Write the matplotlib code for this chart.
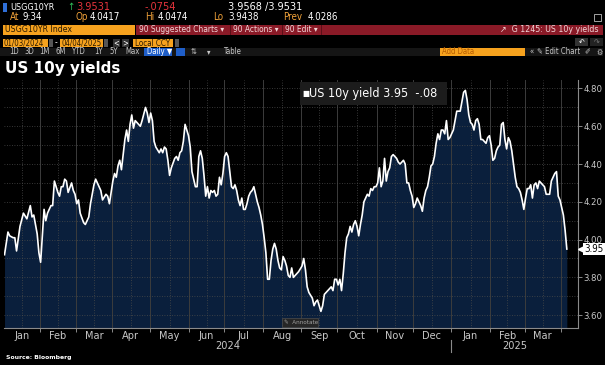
import numpy as np
import pandas as pd
import matplotlib
matplotlib.use("Agg")
import matplotlib.pyplot as plt
import matplotlib.transforms as mtransforms
from matplotlib.patches import Rectangle

# --- data: trading-day index (weekdays from 2024-01-03) and US 10y yield ---
start_date = "2024-01-03"
end_date = "2025-04-04"

day_idx = [
    0, 2, 3, 5, 6, 7, 9, 11, 13, 15, 16, 17, 19, 20, 21, 23, 24, 25, 27, 28,
    29, 31, 32, 33, 34, 35, 36, 37, 39, 40, 41, 42, 43, 44, 46, 47, 49, 50, 52, 53,
    55, 56, 57, 59, 60, 61, 63, 64, 65, 66, 67, 68, 70, 71, 72, 73, 74, 75, 76, 78,
    79, 80, 82, 83, 84, 85, 86, 87, 88, 90, 91, 92, 93, 94, 95, 96, 97, 99, 100, 101,
    102, 103, 104, 105, 107, 108, 109, 111, 112, 113, 114, 115, 116, 117, 118, 119, 120, 121, 122, 123,
    124, 125, 126, 127, 128, 129, 130, 131, 132, 133, 134, 135, 136, 137, 138, 139, 140, 141, 142, 143,
    144, 145, 146, 147, 148, 149, 150, 151, 152, 153, 154, 155, 156, 157, 158, 159, 160, 161, 162, 163,
    164, 165, 166, 167, 168, 170, 171, 173, 174, 175, 176, 177, 179, 180, 181, 182, 183, 184, 185, 186,
    187, 189, 190, 191, 192, 193, 194, 195, 196, 197, 198, 199, 200, 201, 202, 203, 204, 205, 206, 207,
    208, 209, 210, 211, 212, 213, 214, 215, 216, 217, 218, 219, 220, 221, 222, 223, 224, 225, 226, 228,
    229, 230, 231, 232, 233, 234, 235, 236, 237, 238, 239, 240, 241, 242, 243, 244, 245, 246, 247, 248,
    249, 250, 251, 252, 253, 254, 255, 256, 257, 258, 259, 260, 261, 262, 263, 265, 266, 267, 268, 269,
    270, 271, 272, 273, 274, 275, 276, 277, 278, 280, 281, 282, 283, 284, 285, 286, 287, 288, 289, 290,
    291, 292, 293, 294, 295, 296, 297, 298, 299, 300, 301, 302, 303, 304, 305, 306, 307, 308, 309, 310,
    311, 312, 313, 314, 315, 316, 317, 318, 319, 320, 321, 322, 323, 324, 325, 326, 327,
]
yields = [
    3.92, 4.04, 4.02, 4.01, 4.01, 3.94, 4.07, 4.14, 4.11, 4.18, 4.12, 4.13, 4.03, 3.93, 3.88, 4.16, 4.10, 4.14, 4.18, 4.18,
    4.31, 4.25, 4.23, 4.28, 4.28, 4.32, 4.31, 4.25, 4.30, 4.26, 4.24, 4.19, 4.21, 4.14, 4.09, 4.08, 4.12, 4.19, 4.29, 4.32,
    4.28, 4.26, 4.21, 4.24, 4.23, 4.19, 4.31, 4.35, 4.33, 4.39, 4.42, 4.37, 4.53, 4.58, 4.52, 4.61, 4.66, 4.59, 4.63, 4.61,
    4.60, 4.63, 4.70, 4.67, 4.62, 4.67, 4.63, 4.52, 4.49, 4.46, 4.48, 4.46, 4.49, 4.48, 4.42, 4.34, 4.38, 4.43, 4.44, 4.42,
    4.46, 4.47, 4.52, 4.61, 4.55, 4.49, 4.36, 4.28, 4.28, 4.44, 4.47, 4.43, 4.34, 4.23, 4.28, 4.22, 4.26, 4.25, 4.26, 4.23,
    4.24, 4.33, 4.29, 4.35, 4.44, 4.46, 4.44, 4.36, 4.28, 4.27, 4.29, 4.26, 4.21, 4.18, 4.22, 4.16, 4.16, 4.19, 4.23, 4.25,
    4.26, 4.28, 4.24, 4.20, 4.17, 4.13, 4.08, 4.01, 3.93, 3.79, 3.79, 3.89, 3.95, 3.98, 3.95, 3.89, 3.85, 3.84, 3.91, 3.89,
    3.86, 3.81, 3.80, 3.85, 3.80, 3.82, 3.83, 3.86, 3.90, 3.84, 3.75, 3.72, 3.69, 3.65, 3.67, 3.68, 3.65, 3.62, 3.65, 3.71,
    3.72, 3.74, 3.75, 3.73, 3.79, 3.79, 3.76, 3.79, 3.73, 3.82, 3.93, 4.01, 4.03, 4.07, 4.04, 4.08, 4.10, 4.07, 4.02, 4.08,
    4.13, 4.20, 4.22, 4.24, 4.23, 4.27, 4.26, 4.28, 4.28, 4.30, 4.38, 4.28, 4.31, 4.43, 4.31, 4.36, 4.38, 4.44, 4.45, 4.43,
    4.41, 4.40, 4.41, 4.42, 4.40, 4.30, 4.30, 4.26, 4.23, 4.17, 4.19, 4.22, 4.20, 4.18, 4.15, 4.22, 4.26, 4.28, 4.33, 4.39,
    4.40, 4.44, 4.51, 4.56, 4.53, 4.58, 4.58, 4.56, 4.63, 4.53, 4.54, 4.56, 4.58, 4.63, 4.68, 4.68, 4.73, 4.78, 4.79, 4.74,
    4.66, 4.62, 4.61, 4.58, 4.63, 4.64, 4.61, 4.53, 4.53, 4.51, 4.54, 4.55, 4.50, 4.42, 4.43, 4.47, 4.49, 4.50, 4.61, 4.62,
    4.53, 4.48, 4.54, 4.52, 4.47, 4.40, 4.33, 4.28, 4.27, 4.25, 4.21, 4.16, 4.22, 4.27, 4.27, 4.29, 4.22, 4.29, 4.30, 4.27,
    4.31, 4.30, 4.29, 4.28, 4.24, 4.24, 4.24, 4.31, 4.33, 4.35, 4.36, 4.23, 4.21, 4.17, 4.13, 4.05, 3.95,
]

series_name = "US 10y yield"
last_value = 3.95
last_change = -0.08
y_ticks = [3.60, 3.80, 4.00, 4.20, 4.40, 4.60, 4.80]
y_range = (3.532, 4.845)
x_pad_days = 6.5

# --- colours / fonts ---
W, H = 605, 365
BG = "#000000"
NAVY = "#0a1f3c"
GRID = "#4a4a4a"
TXT = "#c8c8c8"
AMBER = "#f2a33a"
ORANGE_BOX = "#f6a21e"
RED = "#e5343c"
MENU_RED = "#8a1a27"
FONT = "DejaVu Sans"

fig = plt.figure(figsize=(W / 100, H / 100), dpi=100, facecolor=BG)


def px_text(x, y, s, color="white", size=7, weight="normal", ha="left", stretch="condensed"):
    return fig.text(x / W, 1 - y / H, s, color=color, fontsize=size, fontweight=weight,
                    ha=ha, va="center", family=FONT, fontstretch=stretch)


def px_rect(x, y, w, h, color, edge="none", lw=0.0):
    fig.add_artist(Rectangle((x / W, 1 - (y + h) / H), w / W, h / H, transform=fig.transFigure,
                             facecolor=color, edgecolor=edge, linewidth=lw))


# --- terminal header ---
px_rect(3, 3, 4, 9, "#2f6fd8")
px_text(10, 7, "USGG10YR", size=6.5)
px_text(67, 7, "\u2191", color="#2fc05a", size=7)
px_text(76, 7, "3.9531", color=RED, size=7.8)
px_text(145, 7, "-.0754", color=RED, size=7.8)
px_text(228, 7, "3.9568 /3.9531", size=7.8)

for lab, val, x0, x1 in [("At", "9:34", 10, 23), ("Op", "4.0417", 76, 90), ("Hi", "4.0474", 145, 158),
                         ("Lo", "3.9438", 213, 228), ("Prev", "4.0286", 283, 308)]:
    px_text(x0, 17.5, lab, color=AMBER, size=7)
    px_text(x1, 17.5, val, size=7)
px_rect(594, 14, 7, 7, "none", edge="#bbbbbb", lw=0.6)

px_rect(3, 25, 132, 10, ORANGE_BOX)
px_text(5, 30, "USGG10YR Index", color="#2a1a00", size=6.3)
px_rect(136, 25, 467, 10, MENU_RED)
px_text(139, 30, "90 Suggested Charts \u25be", color="#f2d6d8", size=6)
px_text(233, 30, "90 Actions \u25be", color="#f2d6d8", size=6)
px_text(285, 30, "90 Edit \u25be", color="#f2d6d8", size=6)
px_rect(230, 25, 0.8, 10, "#5a0f18")
px_rect(282, 25, 0.8, 10, "#5a0f18")
px_rect(321, 25, 0.8, 10, "#5a0f18")
px_text(598, 30, "\u2197  G 1245: US 10y yields", color="#f2d6d8", size=6.3, ha="right")

px_rect(3, 39, 45, 8, ORANGE_BOX)
px_text(4, 43, "01/03/2024", color="#2a1a00", size=5.6)
px_rect(49, 39, 4, 8, "#555555")
px_text(55, 43, "-", size=6)
px_rect(60, 39, 43, 8, ORANGE_BOX)
px_text(61, 43, "04/04/2025", color="#2a1a00", size=5.6)
px_rect(104, 39, 4, 8, "#555555")
px_rect(113, 39, 7, 8, "#333333")
px_rect(122, 39, 7, 8, "#333333")
px_text(116.5, 43, "<", size=5.5, ha="center")
px_text(125.5, 43, ">", size=5.5, ha="center")
px_rect(133, 39, 40, 8, ORANGE_BOX)
px_text(135, 43, "Local CCY", color="#2a1a00", size=5.8)
px_rect(175, 39, 4, 8, "#555555")
px_rect(575, 38, 13, 8, "#333333")
px_rect(590, 38, 13, 8, "#222222")
px_text(581.5, 42, "\u21b6", size=5.5, ha="center")
px_text(596.5, 42, "\u21b7", color="#777777", size=5.5, ha="center")

px_rect(0, 48, 603, 8, "#151515")
for lab, x in [("1D", 9), ("3D", 24), ("1M", 39), ("6M", 55), ("YTD", 71), ("1Y", 94), ("5Y", 109), ("Max", 125)]:
    px_text(x, 52, lab, color=TXT, size=5.6)
px_rect(144, 48, 28, 8, "#1f5ec8")
px_text(147, 52, "Daily \u25bc", size=5.6)
px_rect(176, 48, 9, 8, "#1f5ec8")
px_text(191, 52, "\u21c5", color=TXT, size=5.6)
px_text(207, 52, "\u25be", color=TXT, size=5.6)
px_text(223, 52, "Table", color=TXT, size=5.6)
px_rect(440, 48, 85, 8, ORANGE_BOX)
px_text(442, 52, "Add Data", color="#b45a00", size=5.6)
px_text(529, 52, "\u00ab", color=TXT, size=5.6)
px_text(537, 52, "\u270e Edit Chart", color=TXT, size=5.6)
px_text(584, 52, "\u2710", color=TXT, size=5.5)
px_text(596, 52, "\u2699", color=TXT, size=5.6)

px_text(5, 68, "US 10y yields", size=11, weight="bold", stretch="normal")
px_text(6, 357, "Source: Bloomberg", size=4.4, weight="bold", stretch="normal")

# --- chart ---
bdays = pd.bdate_range(start_date, end_date)
x = np.array(day_idx)
y = np.array(yields)

ax = fig.add_axes([4 / W, 1 - 328 / H, 574 / W, 248 / H])
ax.set_facecolor(BG)
x_left, x_right = -0.3, len(bdays) - 1 + x_pad_days
ax.set_xlim(x_left, x_right)
ax.set_ylim(*y_range)

ax.fill_between(x, y, y_range[0], color=NAVY, lw=0, zorder=1)
ax.plot(x, y, color="white", lw=1.2, zorder=4, solid_joinstyle="round")

# month boundaries (between last and first trading day of each month)
months = bdays.to_period("M")
starts = [i for i in range(1, len(bdays)) if months[i] != months[i - 1]]
bounds = [x_left] + [s - 0.5 for s in starts]
centers = [(a + b) / 2 for a, b in zip(bounds[:-1], bounds[1:])]
month_labels = [months[s - 1].strftime("%b") for s in starts]

ax.set_xticks([s - 0.5 for s in starts])
ax.set_xticklabels([])
ax.set_xticks(centers, minor=True)
ax.set_xticklabels(month_labels, minor=True)
ax.tick_params(axis="x", which="major", length=3, color="#8a8a8a", width=0.7)
ax.tick_params(axis="x", which="minor", length=0, pad=2, labelsize=7.8, labelcolor=TXT)
for lab in ax.get_xticklabels(minor=True):
    lab.set_fontstretch("condensed")

for b in bounds[1:]:
    ax.axvline(b, color="#3c3c3c", lw=0.7, zorder=2)
for c in centers:
    ax.axvline(c, color=GRID, lw=0.6, ls=(0, (1, 2)), zorder=2)
for g in np.arange(3.6, 4.85, 0.1):
    ax.axhline(g, color=GRID, lw=0.6, ls=(0, (1, 2)), zorder=2)

# year row
year_start = [s for s in starts if bdays[s].month == 1][0] - 0.5
xt = ax.get_xaxis_transform()
for xc, yr in [((x_left + year_start) / 2, bdays[0].year), ((year_start + x_right) / 2, bdays[-1].year)]:
    ax.text(xc, -0.073, str(yr), transform=xt, ha="center", va="center",
            color=TXT, fontsize=7.8, fontstretch="condensed")
ax.plot([year_start, year_start], [-0.048, -0.097], transform=xt, color="#8a8a8a", lw=0.8, clip_on=False)

# y axis on the right
ax.yaxis.tick_right()
ax.set_yticks(y_ticks)
ax.set_yticklabels([f"{t:.2f}" for t in y_ticks])
ax.tick_params(axis="y", length=3, width=0.7, color="#8a8a8a", pad=1, labelsize=6.8, labelcolor=TXT)
for lab in ax.get_yticklabels():
    lab.set_fontstretch("condensed")

for side in ("left", "top"):
    ax.spines[side].set_visible(False)
for side in ("right", "bottom"):
    ax.spines[side].set_color("#8a8a8a")
    ax.spines[side].set_linewidth(0.8)

# last value tag
yt = mtransforms.blended_transform_factory(ax.transAxes, ax.transData)
ax.plot([1.006], [last_value], marker="<", ms=4, color="white", transform=yt, clip_on=False, zorder=6)
ax.text(1.011, last_value, f"{last_value:.2f}", transform=yt, ha="left", va="center", fontsize=7,
        color="black", fontstretch="condensed", zorder=7,
        bbox=dict(boxstyle="square,pad=0.12", fc="white", ec="none"))

# legend box
change_txt = f"{last_change:.2f}".replace("0.", ".")
px_rect(300, 82, 147, 23, "#1c1c1c")
px_text(302, 93.5, "\u25a0", size=6)
px_text(309, 93.5, f"{series_name} {last_value:.2f}  {change_txt}", size=9)

# annotate button
px_rect(282, 318, 36, 9, "#262626", edge="#4d4d4d", lw=0.5)
px_text(284, 322.5, "\u270e  Annotate", color="#a0a0a0", size=4.5)

fig.savefig("out.png", dpi=100, facecolor=BG)
